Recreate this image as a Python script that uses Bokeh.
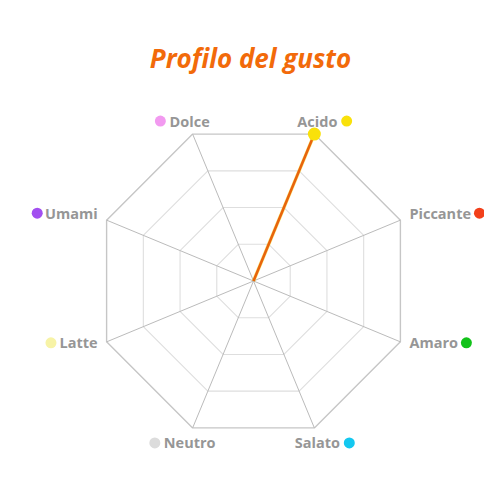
import math

from bokeh.plotting import figure
from bokeh.models import Range1d, Label
from bokeh.core.properties import value
from bokeh.embed import file_html
from bokeh.resources import INLINE

# data
tastes = ["Acido", "Piccante", "Amaro", "Salato", "Neutro", "Latte", "Umami", "Dolce"]
values = [10, 0, 0, 0, 0, 0, 0, 0]
taste_colors = ["#f9e10b", "#f2401b", "#12c21a", "#14c8f0",
                "#dcdcdc", "#f7f3a6", "#a24ff0", "#f29af0"]
max_value = 10
rings = [0.25, 0.5, 0.75, 1.0]
title = "Profilo del gusto"

W, H = 484, 484
R_PX = 159.0           # pixels per unit radius
CX, CY = 253.0, 280.5  # centre of the web, px from top-left
LABEL_PX = 14.5

# rough Open Sans Bold advance widths (em) to place the coloured dots
CHAR_W = {"A": .664, "D": .695, "L": .533, "N": .752, "P": .62, "S": .536,
          "U": .696, "a": .598, "c": .499, "d": .614, "e": .58, "i": .286,
          "l": .286, "m": .947, "n": .652, "o": .602, "r": .43, "t": .408,
          "u": .652}


def text_width(s):
    return sum(CHAR_W.get(ch, .6) for ch in s) * LABEL_PX


def px(d):
    return d / R_PX


n = len(tastes)
angles = [math.radians(67.5 - 45 * i) for i in range(n)]

p = figure(
    width=W,
    height=H,
    output_backend="svg",
    toolbar_location=None,
    x_axis_type=None,
    y_axis_type=None,
    x_range=Range1d(-CX / R_PX, (W - CX) / R_PX),
    y_range=Range1d(-(H - CY) / R_PX, CY / R_PX),
    min_border=0,
)
p.grid.visible = False
p.outline_line_color = None
p.background_fill_color = "white"

# web rings
for r in rings:
    xs = [r * math.cos(a) for a in angles] + [r * math.cos(angles[0])]
    ys = [r * math.sin(a) for a in angles] + [r * math.sin(angles[0])]
    outer = r == rings[-1]
    p.line(xs, ys, line_color="#c6c6c6" if outer else "#dedede",
           line_width=1.4 if outer else 1.1)

# spokes
for a in angles:
    p.line([0, math.cos(a)], [0, math.sin(a)], line_color="#bbbbbb", line_width=1)

# data shape
dx = [v / max_value * math.cos(a) for v, a in zip(values, angles)]
dy = [v / max_value * math.sin(a) for v, a in zip(values, angles)]
p.patch(dx, dy, fill_color="#f9e10b", fill_alpha=0.3,
        line_color="#f9e10b", line_width=3.6, line_alpha=0.45)
p.patch(dx, dy, fill_alpha=0, line_color="#e8640c", line_width=2.6)
pts = [i for i, v in enumerate(values) if v > 0]
p.scatter([dx[i] for i in pts], [dy[i] for i in pts], size=13,
          fill_color=[taste_colors[i] for i in pts], line_color=None)

# axis labels with coloured dots
lx, ly, lalign, dot_x, dot_y = [], [], [], [], []
for name, a in zip(tastes, angles):
    vx = CX + R_PX * math.cos(a)
    vy = CY - R_PX * math.sin(a)
    c, s = math.cos(a), math.sin(a)
    w = text_width(name)
    side = 1 if c > 0 else -1
    if abs(c) > 0.5:
        ty = vy - 7 if s > 0 else vy + 1
        if c > 0:
            tx, align = vx + 9, "left"
            right, left = tx + w, tx
        else:
            tx, align = vx - 9, "right"
            right, left = tx, tx - w
    else:
        ty = vy - 13 if s > 0 else vy + 15
        tx, align = vx + 3 * side, "center"
        left, right = tx - w / 2, tx + w / 2
    dxp = right + 10 if c > 0 else left - 10
    lx.append(px(tx - CX))
    ly.append(px(CY - ty))
    lalign.append(align)
    dot_x.append(px(dxp - CX))
    dot_y.append(px(CY - ty))

for x, y, t, al in zip(lx, ly, tastes, lalign):
    p.text([x], [y], text=[t], text_align=al, text_baseline="middle",
           text_font_size=f"{LABEL_PX}px", text_font_style="bold",
           text_color="#969696", text_font=value("Open Sans"))
p.scatter(dot_x, dot_y, size=11, fill_color=taste_colors, line_color=None)

p.add_layout(Label(x=W / 2 + 8, y=H - 57, x_units="screen", y_units="screen",
                   text=title, text_align="center", text_baseline="middle",
                   text_font="Open Sans", text_font_size="26px",
                   text_font_style="bold italic", text_color="#f26a0a"))

open("out.html", "w").write(file_html(p, INLINE))
